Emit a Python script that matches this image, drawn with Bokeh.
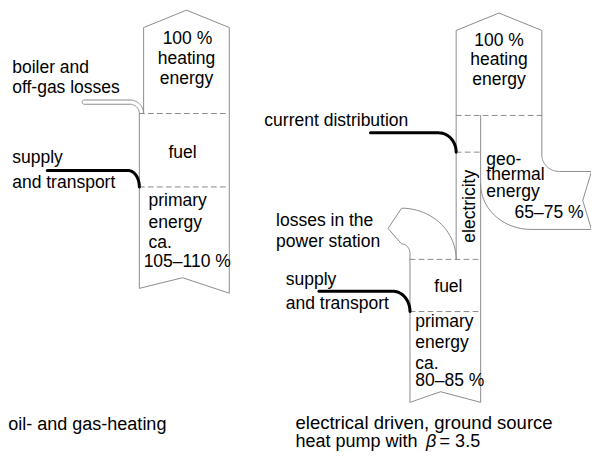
import numpy as np
from bokeh.plotting import figure
from bokeh.models import Range1d
from bokeh.embed import file_html
from bokeh.resources import INLINE
from bokeh.core.properties import value

# ---------------- data (percent of delivered heating energy) ----------------
oil_flow_names = ["heating energy", "fuel", "boiler and off-gas losses"]
oil_flow_pct = [100, 105, 5]
oil_primary_range = (105, 110)

hp_beta = 3.5
hp_flow_names = ["heating energy", "electricity", "geothermal energy", "primary energy"]
hp_flow_pct = [100, 28.6, 71.4, 82.5]
hp_geo_range = (65, 75)
hp_primary_range = (80, 85)

oil_title = ["oil- and gas-heating"]
hp_title = ["electrical driven, ground source", "heat pump with", "β", "= 3.5"]

# ---------------- layout ----------------
W, H = 591, 454
S = 0.88            # px per percent
GREY = "#8c8c8c"
FONT = value("Liberation Sans")
FS = "17.5px"

p = figure(width=W, height=H, x_range=Range1d(0, 607), y_range=Range1d(470, 0),
           output_backend="svg", toolbar_location=None, min_border=0,
           x_axis_location=None, y_axis_location=None)
p.grid.visible = False
p.outline_line_color = None
p.background_fill_color = "white"
p.border_fill_color = "white"


def arc(cx, cy, rx, ry, a0, a1, n=24):
    t = np.radians(np.linspace(a0, a1, n))
    return list(cx + rx * np.cos(t)), list(cy + ry * np.sin(t))


def outline(xs, ys, **kw):
    p.line(xs, ys, line_color=kw.get("color", GREY), line_width=kw.get("width", 1),
           line_dash=kw.get("dash", "solid"), line_join="round", line_cap="round")


# ===== left: oil / gas heating =====
xR = 235
Lh = xR - oil_flow_pct[0] * S            # heating energy column
Lf = xR - oil_flow_pct[1] * S            # fuel / primary column
wb = oil_flow_pct[2] * S                 # boiler-loss band width
y_d1, y_d2 = 117, 193
y_bt = 103
r_in = y_d1 - (y_bt + wb)
xc = Lf - r_in

xs, ys = [Lh, Lh, (Lh + xR) / 2, xR, xR, 187, Lf, Lf], [y_d1, 28, 10, 28, 303, 287, 298, y_d1]
ax, ay = arc(xc, y_d1, r_in, r_in, 0, -90)
xs += ax; ys += ay
xs += [86]; ys += [y_bt + wb]
ax, ay = arc(86, y_bt + wb / 2, wb / 2, wb / 2, 90, 270, 12)
xs += ax; ys += ay
ax, ay = arc(xc, y_d1, r_in + wb, r_in + wb, -90, 0)
xs += ax; ys += ay
outline(xs, ys)
outline([Lf, xR], [y_d1, y_d1], dash="5 4")
outline([Lf, xR], [y_d2, y_d2], dash="5 4")

# supply and transport (thick)
ax, ay = arc(131, y_d2, Lf - 131, y_d2 - 176, -90, 0)
outline([48] + ax, [176] + ay, color="black", width=3)

# ===== right: heat pump =====
R2 = 556
Lh2 = R2 - hp_flow_pct[0] * S            # heating energy left edge
Le = Lh2 + hp_flow_pct[1] * S            # electricity right edge
Lp = Le - hp_flow_pct[3] * S             # primary energy left edge
y_e1, y_e2, y_e3, y_e4 = 119, 157, 268, 322

xs, ys = [Lh2, Lh2, (Lh2 + R2) / 2, R2, R2], [y_e3, 31, 13, 31, 160]
ax, ay = arc(R2 + 18, 160, 18, 17, 180, 90)
xs += ax + [607, 598, 607, 545]; ys += ay + [177, 207, 237, 237]
ax, ay = arc(545, 190, 545 - Le, 47, 90, 180)
xs += ax; ys += ay
outline(xs, ys)

xs, ys = [Le, Le, 452, Lp, Lp], [y_e1, 416, 405, 416, 262]
ax, ay = arc(412, 262, Lp - 412, 10, 0, -90, 12)
xs += ax + [398]; ys += ay + [236]
ax, ay = arc(412, y_e3, Lh2 - 412, y_e3 - 215, -90, 0)
xs += ax; ys += ay
outline(xs, ys)

outline([Lh2, R2], [y_e1, y_e1], dash="5 4")
outline([Lh2, Le], [y_e2, y_e2], dash="5 4")
outline([Lp, Le], [y_e3, y_e3], dash="5 4")
outline([Lp, Le], [y_e4, y_e4], dash="5 4")

# current distribution (thick)
ax, ay = arc(450, y_e2, Lh2 - 450, y_e2 - 137, -90, 0)
outline([380] + ax, [137] + ay, color="black", width=3)
# supply and transport (thick)
ax, ay = arc(403, y_e4, Lp - 403, y_e4 - 301, -90, 0)
outline([327] + ax, [301] + ay, color="black", width=3)

# ---------------- texts ----------------
def txt(x, y, t, align="left", angle=0, style="normal", size=FS):
    p.text(x=x, y=y, text=t, text_font=FONT, text_font_size=size, text_color="black",
           text_align=align, text_baseline="middle", angle=angle, text_font_style=style)

pct0 = f"{oil_flow_pct[0]} %"
txt([192, 191, 191], [39, 60, 80], [pct0, "heating", "energy"], align="center")
txt([512, 512, 512], [41, 61, 81], [f"{hp_flow_pct[0]} %", "heating", "energy"], align="center")
txt([187, 460], [157, 296], ["fuel", "fuel"], align="center")

txt([12, 12, 12, 12], [69, 90, 162, 188],
    ["boiler and", "off-gas losses", "supply", "and transport"])
txt([152, 152, 152, 147], [207, 229, 250, 270],
    ["primary", "energy", "ca.", f"{oil_primary_range[0]}–{oil_primary_range[1]} %"])
txt([8], [438], oil_title[:1], size="18px")

txt([271], [124], ["current distribution"])
txt([499, 499, 499, 528], [164, 180, 197, 219],
    ["geo-", "thermal", "energy", f"{hp_geo_range[0]}–{hp_geo_range[1]} %"])
txt([481], [213], ["electricity"], align="center", angle=np.pi / 2)
txt([283, 283, 293, 293], [227, 249, 288, 313],
    ["losses in the", "power station", "supply", "and transport"])
txt([426, 426, 426, 426], [332, 354, 375, 393],
    ["primary", "energy", "ca.", f"{hp_primary_range[0]}–{hp_primary_range[1]} %"])
txt([303], [437], [hp_title[0]], size="18.5px")
txt([303, 451], [456, 456], [hp_title[1], hp_title[3]], size="18px")
txt([437], [456], [hp_title[2]], style="italic", size="18px")

open("out.html", "w").write(file_html(p, INLINE))
